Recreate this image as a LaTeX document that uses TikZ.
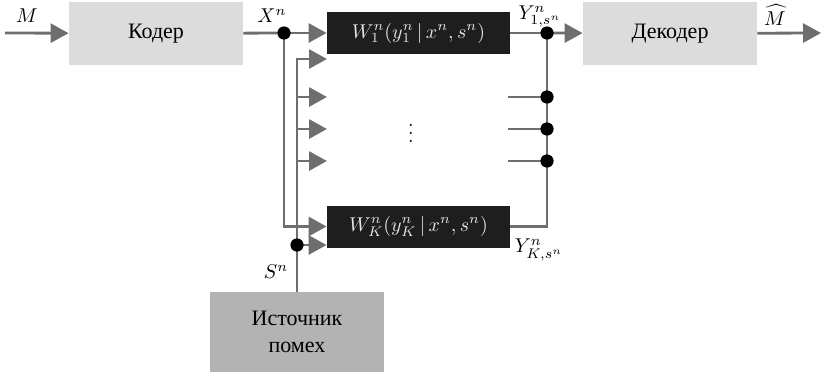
\documentclass[tikz,border=0pt]{standalone}
\usepackage{amsmath}
\usepackage{fontspec}
\usetikzlibrary{positioning,arrows.meta,calc}
\newfontfamily\cyrfont{Liberation Serif}
\definecolor{WireGray}{HTML}{6E6E6E}
\definecolor{BoxLight}{HTML}{DCDCDC}
\definecolor{BoxMid}{HTML}{B3B3B3}
\definecolor{ChanDark}{HTML}{1E1E1E}
\definecolor{ChanText}{HTML}{E6E6E6}

\begin{document}
\begin{tikzpicture}[x=0.5pt,y=-0.5pt,
    wire/.style={draw=WireGray, line width=1.4pt},
    tip/.style={-{Triangle[length=9pt,width=9.5pt]}, WireGray},
    blockbox/.style={fill=BoxLight, minimum width=87pt, minimum height=31.5pt,
                     inner sep=0pt, font=\cyrfont\fontsize{11}{13.5}\selectfont},
    chanbox/.style={fill=ChanDark, text=ChanText, minimum width=91.5pt,
                    minimum height=21pt, inner sep=0pt}]
  \useasboundingbox (0,0) rectangle (822,380);

  % blocks
  \node[blockbox] (coder) at (156,33.5) {Кодер};
  \node[blockbox] (decoder) at (670,33.5) {Декодер};
  \node[blockbox, fill=BoxMid, minimum height=40pt, align=center] (source) at (297,332)
    {Источник\\помех};
  \node[chanbox] (W1) at (418.5,33) {$W_1^n(y_1^n\,|\,x^n,s^n)$};
  \node[chanbox] (WK) at (418.5,226.5) {$W_K^n(y_K^n\,|\,x^n,s^n)$};
  \node (dots) at (411,127) {$\vdots$};

  % junctions and free ends
  \coordinate (in) at (5,33);
  \coordinate (out) at (821,33);
  \coordinate (xdot) at (284,33);
  \coordinate (sdot) at (297,245);
  \coordinate (ydot) at (547,33);
  \foreach \n/\yy in {a/59,b/97,c/129,d/161} {
    \coordinate (sin\n) at (327,\yy);
  }
  \foreach \n/\yy in {a/97,b/129,c/161} {
    \coordinate (yj\n) at (547,\yy);
    \coordinate (ys\n) at (508,\yy);
  }

  % wires
  \draw[wire,tip] (in) -- (coder);
  \draw[wire] (coder) -- (xdot);
  \draw[wire,tip] (xdot) -- (W1);
  \draw[wire,tip] (xdot) |- (WK.west);
  \draw[wire,tip] (source.north) |- (sina);
  \foreach \n in {b,c,d}
    \draw[wire,tip] (sdot |- sin\n) -- (sin\n);
  \draw[wire,tip] (sdot) -- (WK.west |- sdot);
  \draw[wire] (W1) -- (ydot);
  \draw[wire,tip] (ydot) -- (decoder);
  \draw[wire,tip] (decoder) -- (out);
  \draw[wire] (ydot) |- (WK.east);
  \foreach \n in {a,b,c}
    \draw[wire] (ys\n) -- (yj\n);
  \foreach \p in {xdot,sdot,ydot,yja,yjb,yjc}
    \fill (\p) circle (3.3pt);

  % labels
  \node (lblM) at (27,16) {$M$};
  \node (lblX) at (272,16) {$X^n$};
  \node (lblY1) at (540,17) {$Y^n_{1,s^n}$};
  \node (lblYK) at (539,250) {$Y^n_{K,s^n}$};
  \node (lblS) at (276,272) {$S^n$};
  \node (lblMhat) at (775,15) {$\widehat{M}$};
\end{tikzpicture}
\end{document}
